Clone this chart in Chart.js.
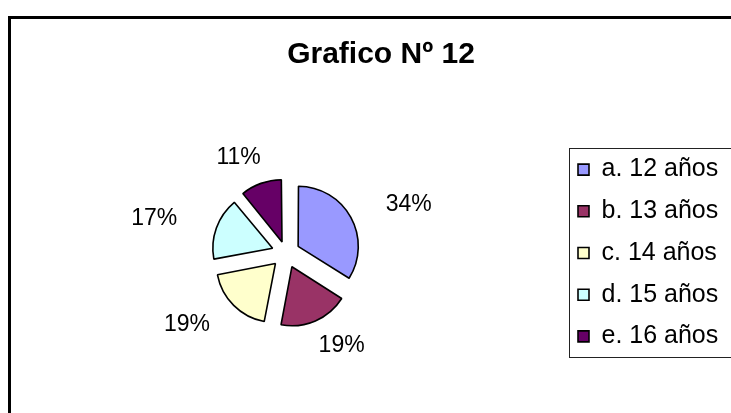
<!DOCTYPE html>
<html>
<head>
<meta charset="utf-8">
<script src="https://cdn.jsdelivr.net/npm/chart.js@4/dist/chart.umd.min.js"></script>
<style>
  html, body { margin: 0; padding: 0; background: #ffffff; overflow: hidden; }
  #wrap { width: 731px; height: 413px; overflow: hidden; position: relative; }
  canvas { display: block; }
</style>
</head>
<body>
<div id="wrap"><canvas id="c" width="800" height="413"></canvas></div>
<script>
// ---- data ----
const titleText = 'Grafico Nº 12';
const categories = ['a. 12 años', 'b. 13 años', 'c. 14 años', 'd. 15 años', 'e. 16 años'];
const percentages = [34, 19, 19, 17, 11];
const sliceColors = ['#9999FF', '#993366', '#FFFFCC', '#CCFFFF', '#660066'];

// ---- styling ----
const FONT = "'Liberation Sans', Arial, sans-serif";
const EXPLODE = 16;          // px each slice is pulled out
const PIE_RADIUS = 58;
const LEGEND_FONT = 25;
const LEGEND_PAD = 41.7 - LEGEND_FONT;
const LEGEND_WIDTH = 190;

const total = percentages.reduce((a, b) => a + b, 0);
// Chart.js v4 arc translates by offset/4 * (2 - sin(min(PI, circ))): invert it for an even explode
const sliceOffsets = percentages.map(v => {
  const circ = v / total * Math.PI * 2;
  return 4 * EXPLODE / (2 - Math.sin(Math.min(Math.PI, circ)));
});

Chart.defaults.color = '#000000';
Chart.defaults.font.family = FONT;

const framePlugin = {
  id: 'frameAndLegendBox',
  beforeInit(chart) {
    const lg = chart.legend;
    if (lg && !lg._patched) {
      const orig = lg.fit;
      lg.fit = function () { orig.call(this); if (this.options.display) this.width = LEGEND_WIDTH; };
      lg._patched = true;
    }
  },
  beforeDraw(chart) {
    const ctx = chart.ctx;
    ctx.save();
    ctx.strokeStyle = '#000000';
    ctx.lineWidth = 3;
    ctx.strokeRect(9.5, 17.5, chart.width + 20, chart.height + 20);
    ctx.restore();
  },
  afterDraw(chart) {
    const lg = chart.legend;
    if (!lg || !lg.columnSizes) return;
    const colH = lg.columnSizes[0].height;
    const y0 = (lg.top + LEGEND_PAD + lg.bottom - colH) / 2;
    const top = Math.round(y0 - 9) + 0.5;
    const bottom = Math.round(y0 + colH - LEGEND_PAD + 8) + 0.5;
    const left = Math.round(lg.left + LEGEND_PAD - 9) + 0.5;
    const ctx = chart.ctx;
    ctx.save();
    ctx.strokeStyle = '#222222';
    ctx.lineWidth = 1;
    ctx.strokeRect(left, top, chart.width - left + 20, bottom - top);
    ctx.restore();
  }
};

const labelPlugin = {
  id: 'pctLabels',
  afterDatasetsDraw(chart) {
    const meta = chart.getDatasetMeta(0);
    const ctx = chart.ctx;
    ctx.save();
    ctx.font = '23px ' + FONT;
    ctx.fillStyle = '#000000';
    ctx.textAlign = 'center';
    ctx.textBaseline = 'middle';
    meta.data.forEach((arc, i) => {
      const p = arc.getProps(['x', 'y', 'startAngle', 'endAngle', 'outerRadius'], true);
      const mid = (p.startAngle + p.endAngle) / 2;
      const dx = Math.cos(mid), dy = Math.sin(mid);
      const r = p.outerRadius + EXPLODE;
      const lx = p.x + dx * (r + 66);
      const ly = p.y + dy * (r + 27);
      const pct = Math.round(percentages[i] / total * 100) + '%';
      ctx.fillText(pct, lx, ly);
    });
    ctx.restore();
  }
};

new Chart(document.getElementById('c'), {
  type: 'pie',
  data: {
    labels: categories,
    datasets: [{
      data: percentages,
      backgroundColor: sliceColors,
      borderColor: '#000000',
      borderWidth: 1.6,
      offset: sliceOffsets,
      radius: PIE_RADIUS
    }]
  },
  options: {
    responsive: false,
    animation: false,
    events: [],
    layout: { padding: { left: LEGEND_PAD - 6, right: 800 - (762 - (LEGEND_PAD - 6)), top: 37, bottom: 0 } },
    plugins: {
      title: {
        display: true,
        text: titleText,
        color: '#000000',
        font: { size: 30, weight: 'bold', family: FONT },
        padding: { top: 0, bottom: 20 }
      },
      legend: {
        display: true,
        position: 'right',
        fullSize: false,
        align: 'center',
        labels: {
          boxWidth: 11,
          boxHeight: 11,
          padding: LEGEND_PAD,
          color: '#000000',
          font: { size: LEGEND_FONT, family: FONT }
        }
      },
      tooltip: { enabled: false }
    }
  },
  plugins: [framePlugin, labelPlugin]
});
</script>
</body>
</html>
